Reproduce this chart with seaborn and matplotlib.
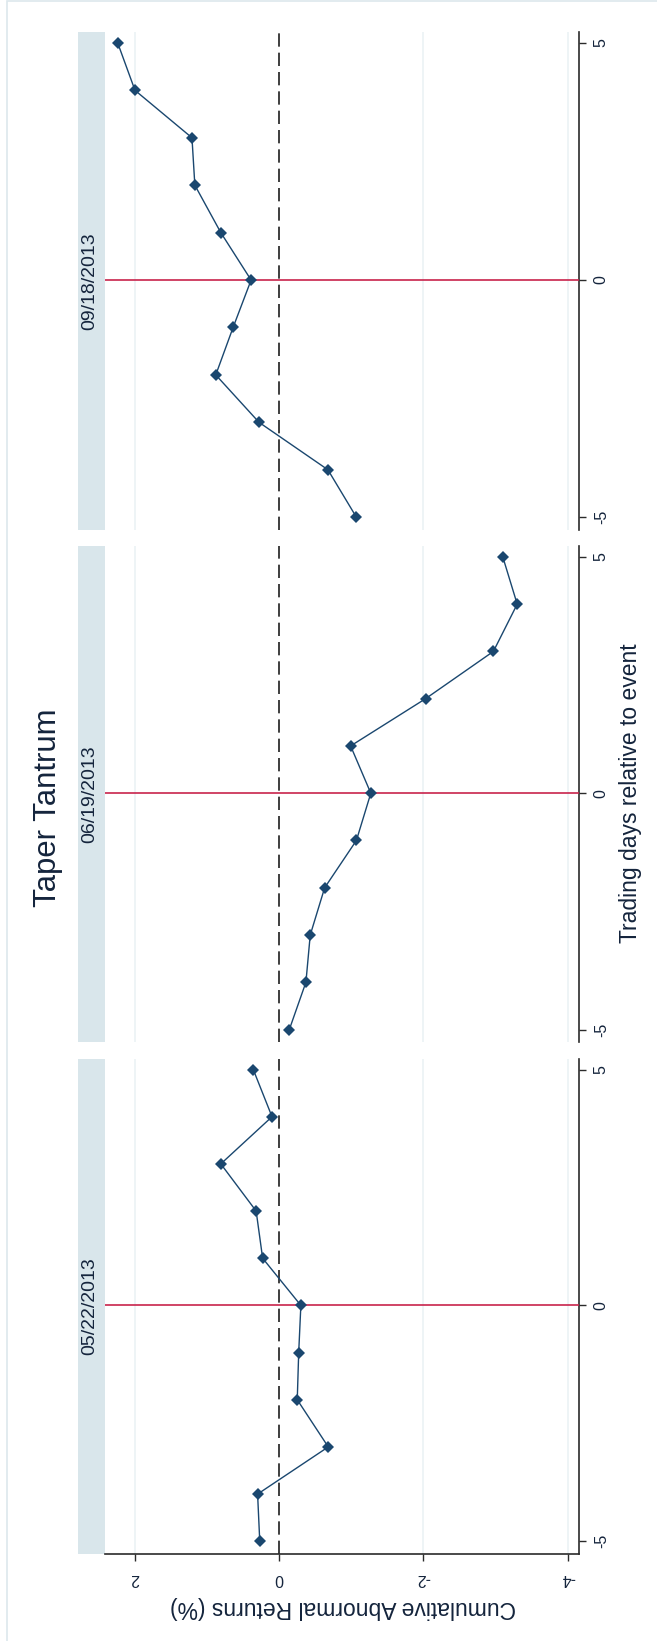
import matplotlib
matplotlib.use("Agg")
import matplotlib.pyplot as plt
from matplotlib.patches import Rectangle
import pandas as pd
import seaborn as sns

# ---- data -------------------------------------------------------------
days = [-5, -4, -3, -2, -1, 0, 1, 2, 3, 4, 5]
event_dates = ["09/18/2013", "06/19/2013", "05/22/2013"]
car_0918 = [-1.07, -0.675, 0.28, 0.88, 0.64, 0.39, 0.81, 1.17, 1.21, 2.00, 2.24]
car_0619 = [-0.14, -0.37, -0.43, -0.63, -1.07, -1.27, -0.99, -2.03, -2.97, -3.30, -3.10]
car_0522 = [0.27, 0.30, -0.68, -0.25, -0.27, -0.30, 0.23, 0.32, 0.81, 0.10, 0.36]
car_ticks = [2, 0, -2, -4]
day_ticks = [-5, 0, 5]
title = "Taper Tantrum"
car_label = "Cumulative Abnormal Returns (%)"
day_label = "Trading days relative to event"

series = [car_0918, car_0619, car_0522]

# ---- style ------------------------------------------------------------
sns.set_style("white")
plt.rcParams["font.family"] = ["Liberation Sans", "DejaVu Sans"]

NAVY = "#1a476f"
RED = "#c8244c"
GRID = "#eaf1f4"
STRIP = "#d9e6eb"
AXIS = "#2b2b2b"
TEXT = "#14243c"

W, H = 657, 1641
fig = plt.figure(figsize=(W / 100, H / 100), dpi=100)
fig.patch.set_facecolor("white")


def fx(px):
    return px / W


def fy(py):
    return 1 - py / H


left_px, right_px = 105, 578.5
strip_w = 27
panels_px = [(32, 530), (546, 1042.3), (1058.7, 1554)]

for i, (top, bottom) in enumerate(panels_px):
    ax = fig.add_axes([fx(left_px), fy(bottom),
                       (right_px - left_px) / W, (bottom - top) / H])
    ax.set_facecolor("white")

    df = pd.DataFrame({"day": days, "car": series[i]})

    for g in car_ticks:
        if g != 0:
            ax.axvline(g, color=GRID, lw=1.1, zorder=0)
    ax.axvline(0, color="#1e1e1e", lw=1.2, ls=(0, (8, 3.6)), zorder=2)
    ax.axhline(0, color=RED, lw=1.2, zorder=3)

    sns.lineplot(data=df, x="car", y="day", sort=False, estimator=None,
                 ax=ax, color=NAVY, lw=1.0, marker="D", markersize=5.8,
                 markeredgewidth=0, markerfacecolor=NAVY, zorder=5)

    ax.set_xlim(2.416, -4.15)
    ax.set_ylim(-5.27, 5.23)
    ax.set_xlabel("")
    ax.set_ylabel("")

    for side in ["left", "top"]:
        ax.spines[side].set_visible(False)
    ax.spines["right"].set_color(AXIS)
    ax.spines["right"].set_linewidth(1.2)

    ax.yaxis.tick_right()
    ax.set_yticks(day_ticks)
    ax.set_yticklabels([str(d) for d in day_ticks], rotation=90, va="center")
    ax.tick_params(axis="y", length=5, width=1, pad=6, labelsize=11.5,
                   color=AXIS, labelcolor=TEXT)

    if i == len(panels_px) - 1:
        ax.spines["bottom"].set_color(AXIS)
        ax.spines["bottom"].set_linewidth(1.2)
        ax.set_xticks(car_ticks)
        ax.set_xticklabels([str(c) for c in car_ticks], rotation=180)
        ax.tick_params(axis="x", length=5, width=1, pad=7, labelsize=11.5,
                       color=AXIS, labelcolor=TEXT, bottom=True)
    else:
        ax.spines["bottom"].set_visible(False)
        ax.set_xticks([])

    # panel strip with the event date
    sw = strip_w / (right_px - left_px)
    ax.add_patch(Rectangle((-sw, 0), sw, 1, transform=ax.transAxes,
                           facecolor=STRIP, edgecolor="none",
                           clip_on=False, zorder=0))
    ax.text(-sw / 2 - 2 / (right_px - left_px), 0.5, event_dates[i],
            transform=ax.transAxes, rotation=90, ha="center", va="center",
            fontsize=14, color=TEXT)

fig.text(fx(48), fy(808), title, rotation=90, ha="center", va="center",
         fontsize=22.4, color=TEXT)
fig.text(fx(631), fy(793), day_label, rotation=90, ha="center", va="center",
         fontsize=16.5, color=TEXT)
fig.text(fx(343), fy(1607), car_label, rotation=180, ha="center",
         va="center", fontsize=16.5, color=TEXT)

# outer frame of the graph region
fig.patches.append(Rectangle((fx(7), -0.1), 1.2, 1.1 - 1 / H,
                             transform=fig.transFigure, fill=False,
                             edgecolor="#dde8ec", lw=1.2))

fig.savefig("out.png", dpi=100)
